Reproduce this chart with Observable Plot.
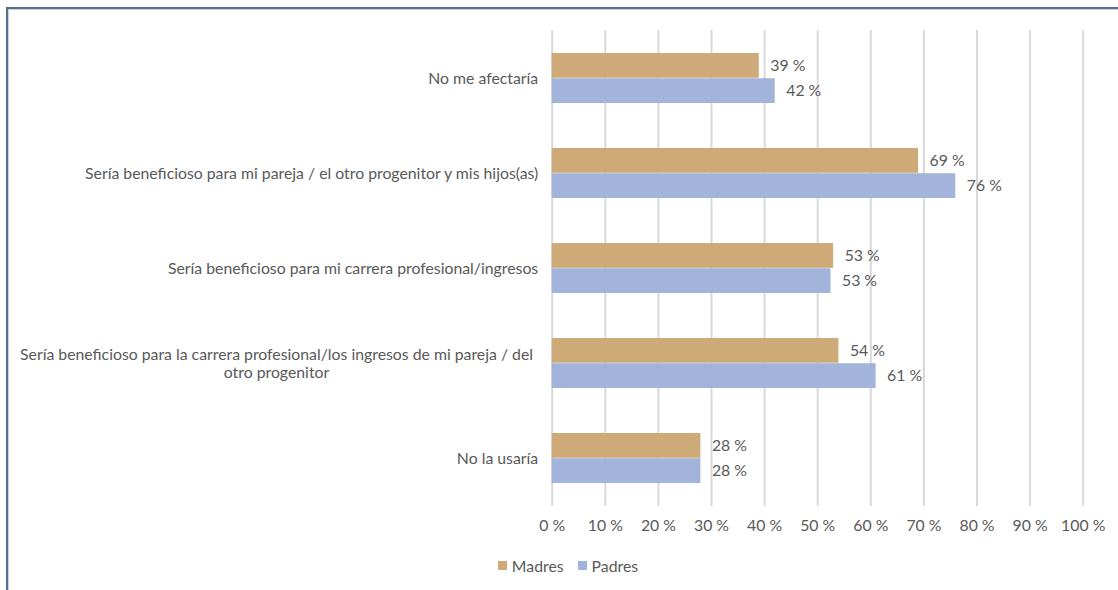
<!DOCTYPE html>
<html>
<head>
<meta charset="utf-8">
<script src="https://cdn.jsdelivr.net/npm/d3@7"></script>
<script src="https://cdn.jsdelivr.net/npm/@observablehq/plot@0.6"></script>
<style>
  html, body { margin: 0; padding: 0; background: #fff; width: 1118px; height: 590px; overflow: hidden; }
  #frame { position: absolute; left: 6px; top: 7px; right: 0; bottom: 0;
           border-left: 2px solid #50708f; border-top: 2px solid #50708f; }
  #frame::after { content: ""; position: absolute; left: 0; top: 0; right: 0; bottom: 0;
           border-left: 1px solid #c9d2de; border-top: 1px solid #c9d2de; }
  #chart { position: absolute; left: 0; top: 0; }
  #legend { position: absolute; top: 556px; left: 0; width: 1136px; display: flex; justify-content: center;
            font-family: Lato, "Open Sans", sans-serif; font-size: 15.8px; color: #595959; }
  .sw { display: inline-flex; align-items: center; margin: 0 7px; }
  .sw i { display: inline-block; width: 9px; height: 9px; margin-right: 5px; }
</style>
</head>
<body>
<div id="frame"></div>
<div id="chart"></div>
<div id="legend"></div>
<script>
const categories = [
  "No me afectaría",
  "Sería beneficioso para mi pareja / el otro progenitor y mis hijos(as)",
  "Sería beneficioso para mi carrera profesional/ingresos",
  "Sería beneficioso para la carrera profesional/los ingresos de mi pareja / del otro progenitor",
  "No la usaría"
];
const longLabelLines = ["Sería beneficioso para la carrera profesional/los ingresos de mi pareja / del", "otro progenitor"];
const series = ["Madres", "Padres"];
const madres = [39, 69, 53, 54, 28];
const padres = [42, 76, 52.5, 61, 28];
const xTicks = [0, 10, 20, 30, 40, 50, 60, 70, 80, 90, 100];
const colors = ["#cdaa78", "#a2b4da"];

const font = "Lato, 'Open Sans', sans-serif";
const fs = 15.8;
const textColor = "#595959";
const W = 1118, H = 545, mt = 30, mb = 39, ml = 551.7, mr = 35.3;
const padIn = 0.47;
const step = (H - mt - mb) / categories.length;
const bw = step * (1 - padIn);

const rowsM = categories.map((c, i) => ({cat: c, v: madres[i]}));
const rowsP = categories.map((c, i) => ({cat: c, v: padres[i]}));
const longCat = categories[3];

const chart = Plot.plot({
  width: W, height: H,
  marginTop: mt, marginBottom: mb, marginLeft: ml, marginRight: mr,
  style: {fontFamily: font, fontSize: fs + "px", color: textColor, background: "transparent"},
  x: {domain: [0, 100]},
  y: {domain: categories, paddingInner: padIn, paddingOuter: padIn / 2},
  marks: [
    Plot.ruleX(xTicks, {x: d => d, stroke: "#d9d9d9", strokeWidth: 2}),
    Plot.barX(rowsM, {y: "cat", x: "v", fill: colors[0], insetBottom: bw / 2}),
    Plot.barX(rowsP, {y: "cat", x: "v", fill: colors[1], insetTop: bw / 2}),
    Plot.text(rowsM, {y: "cat", x: "v", text: d => Math.round(d.v) + " %", dy: -bw / 4, dx: 11, textAnchor: "start", fill: textColor, fontSize: fs}),
    Plot.text(rowsP, {y: "cat", x: "v", text: d => Math.round(d.v) + " %", dy: bw / 4, dx: 11, textAnchor: "start", fill: textColor, fontSize: fs}),
    Plot.axisY({tickSize: 0, tickPadding: 14, label: null, fill: textColor, fontSize: fs,
                tickFormat: d => d === longCat ? "" : d, textOverflow: null, lineWidth: Infinity}),
    Plot.text([longCat], {y: d => d, text: () => longLabelLines.join("\n"), frameAnchor: "left",
                          dx: -(ml - 276), textAnchor: "middle", lineHeight: 1.15, fill: textColor, fontSize: fs}),
    Plot.axisX(xTicks, {tickSize: 0, tickPadding: 13, label: null, tickFormat: d => d + " %", fill: textColor, fontSize: fs})
  ]
});
document.getElementById("chart").appendChild(chart);

const lg = document.getElementById("legend");
series.forEach((s, i) => {
  const span = document.createElement("span");
  span.className = "sw";
  span.innerHTML = `<i style="background:${colors[i]}"></i>${s}`;
  lg.appendChild(span);
});
</script>
</body>
</html>
